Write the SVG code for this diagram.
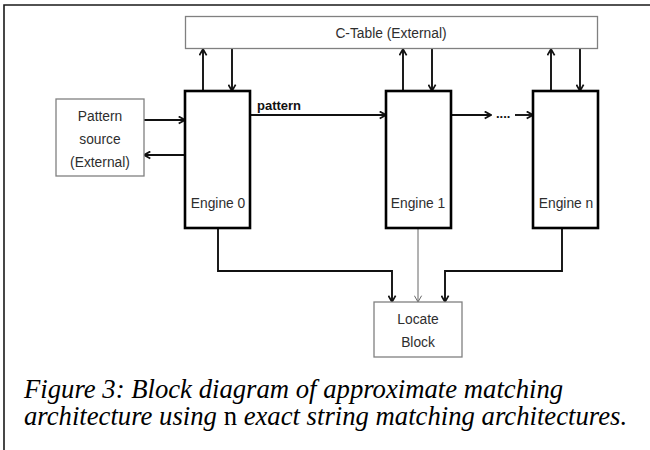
<svg xmlns="http://www.w3.org/2000/svg" width="650" height="450" viewBox="0 0 650 450">
  <style>
    .frame { fill: none; stroke: #1a1a1a; stroke-width: 1.6; }
    .ext { fill: #fff; stroke: #808080; stroke-width: 1.3; }
    .eng { fill: #fff; stroke: #000; stroke-width: 2.6; }
    .wire { fill: none; stroke: #111; stroke-width: 1.9; }
    .thin { fill: none; stroke: #666; stroke-width: 1; }
    .lbl { font-family: "Liberation Sans", Arial, sans-serif; font-size: 13.8px; fill: #2e2e2e; text-anchor: middle; }
    .bold { font-family: "Liberation Sans", Arial, sans-serif; font-size: 13px; font-weight: bold; fill: #111; }
    .cap { font-family: "Liberation Serif", "Times New Roman", serif; font-size: 26.7px; font-style: italic; fill: #000; }
    .up { font-style: normal; }
  </style>
  <defs>
    <marker id="arr" viewBox="0 0 10 10" refX="9" refY="5" markerWidth="9" markerHeight="9" markerUnits="userSpaceOnUse" orient="auto">
      <path d="M2,1 L9,5 L2,9" fill="none" stroke="#111" stroke-width="1.9"/>
    </marker>
    <marker id="arrThin" viewBox="0 0 10 10" refX="9" refY="5" markerWidth="9" markerHeight="9" markerUnits="userSpaceOnUse" orient="auto">
      <path d="M2,1 L9,5 L2,9" fill="none" stroke="#666" stroke-width="1.1"/>
    </marker>
  </defs>

  <!-- page frame (top and left edges) -->
  <path class="frame" d="M4,450 V5 H650"/>

  <!-- connectors -->
  <g id="connectors">
    <!-- engines to / from the C-Table -->
    <line class="wire" x1="203" y1="91" x2="203" y2="49" marker-end="url(#arr)"/>
    <line class="wire" x1="232" y1="49" x2="232" y2="91" marker-end="url(#arr)"/>
    <line class="wire" x1="403" y1="91" x2="403" y2="49" marker-end="url(#arr)"/>
    <line class="wire" x1="432" y1="49" x2="432" y2="91" marker-end="url(#arr)"/>
    <line class="wire" x1="551" y1="91" x2="551" y2="49" marker-end="url(#arr)"/>
    <line class="wire" x1="580" y1="49" x2="580" y2="91" marker-end="url(#arr)"/>
    <!-- pattern source <-> engine 0 -->
    <line class="wire" x1="144" y1="120" x2="185" y2="120" marker-end="url(#arr)"/>
    <line class="wire" x1="185" y1="155" x2="144" y2="155" marker-end="url(#arr)"/>
    <!-- pattern chain -->
    <line class="wire" x1="250" y1="115" x2="386" y2="115" marker-end="url(#arr)"/>
    <text class="bold" x="257" y="110">pattern</text>
    <line class="wire" x1="451" y1="115" x2="491" y2="115" marker-end="url(#arr)"/>
    <text class="bold" x="496" y="118" font-size="11">....</text>
    <line class="wire" x1="515" y1="115" x2="533" y2="115" marker-end="url(#arr)"/>
    <!-- engines to locate block -->
    <path class="wire" d="M218,228 V271 H392 V302" marker-end="url(#arr)"/>
    <path class="thin" d="M418,228 V302" marker-end="url(#arrThin)"/>
    <path class="wire" d="M562,228 V271 H445 V302" marker-end="url(#arr)"/>
  </g>

  <g id="ctable">
    <rect class="ext" x="185.5" y="16.5" width="412" height="32"/>
    <text class="lbl" x="391" y="38">C-Table (External)</text>
  </g>

  <g id="pattern-source">
    <rect class="ext" x="56" y="99" width="88" height="77"/>
    <text class="lbl" x="100" y="121">Pattern</text>
    <text class="lbl" x="100" y="144">source</text>
    <text class="lbl" x="100" y="167">(External)</text>
  </g>

  <g id="engine0">
    <rect class="eng" x="185" y="91" width="65" height="137"/>
    <text class="lbl" x="218" y="208">Engine 0</text>
  </g>

  <g id="engine1">
    <rect class="eng" x="386" y="91" width="65" height="137"/>
    <text class="lbl" x="418" y="208">Engine 1</text>
  </g>

  <g id="enginen">
    <rect class="eng" x="533" y="91" width="65" height="137"/>
    <text class="lbl" x="566" y="208">Engine n</text>
  </g>

  <g id="locate-block">
    <rect class="ext" x="374" y="302" width="88" height="55"/>
    <text class="lbl" x="418" y="324">Locate</text>
    <text class="lbl" x="418" y="347">Block</text>
  </g>

  <!-- figure caption -->
  <text class="cap" x="24" y="398">Figure 3: Block diagram of approximate matching</text>
  <text class="cap" x="24" y="425">architecture using <tspan class="up">n</tspan> exact string matching architectures.</text>
</svg>
